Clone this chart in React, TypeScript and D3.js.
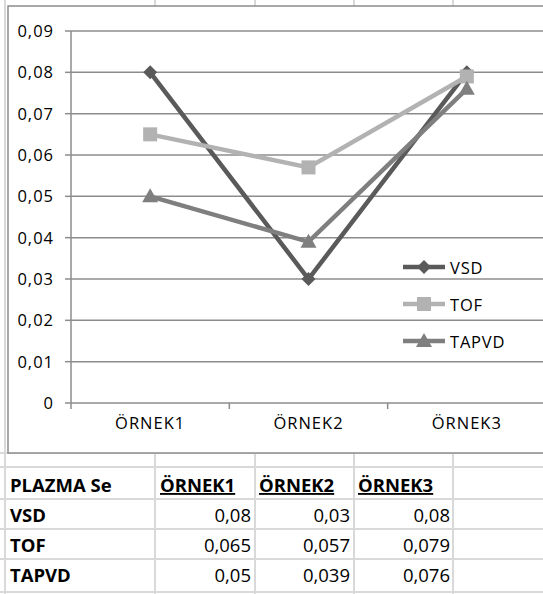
import React from "react";
import * as d3 from "d3";

const categories = ["ÖRNEK1", "ÖRNEK2", "ÖRNEK3"];
const seriesNames = ["VSD", "TOF", "TAPVD"];
const vsdValues = [0.08, 0.03, 0.08];
const tofValues = [0.065, 0.057, 0.079];
const tapvdValues = [0.05, 0.039, 0.076];
const yTicks = [0, 0.01, 0.02, 0.03, 0.04, 0.05, 0.06, 0.07, 0.08, 0.09];
const tableHeader = "PLAZMA Se";
const tableValueLabels = [
  ["0,08", "0,03", "0,08"],
  ["0,065", "0,057", "0,079"],
  ["0,05", "0,039", "0,076"],
];

const W = 543;
const H = 594;
const FONT = "'Open Sans', 'Noto Sans', sans-serif";

const colors = ["#5a5a5a", "#b2b2b2", "#7f7f7f"];
const markers = ["diamond", "square", "triangle"];

function Marker({ type, x, y, color }: { type: string; x: number; y: number; color: string }) {
  if (type === "diamond") {
    const s = 7;
    return <path d={`M${x},${y - s}L${x + s},${y}L${x},${y + s}L${x - s},${y}Z`} fill={color} />;
  }
  if (type === "square") {
    const s = 7;
    return <rect x={x - s} y={y - s} width={2 * s} height={2 * s} fill={color} />;
  }
  const s = 8;
  return <path d={`M${x},${y - s}L${x + s},${y + 6}L${x - s},${y + 6}Z`} fill={color} />;
}

export default function App() {
  const plotLeft = 71;
  const plotRight = 546;
  const plotTop = 31;
  const plotBottom = 403;

  const x = d3.scaleBand<string>().domain(categories).range([plotLeft, plotRight]).padding(0);
  const y = d3.scaleLinear().domain([0, 0.09]).range([plotBottom, plotTop]);
  const data = [vsdValues, tofValues, tapvdValues];
  const line = d3
    .line<number>()
    .x((_, i) => (x(categories[i]) as number) + x.bandwidth() / 2)
    .y((d) => y(d));

  const fmt = (v: number) => (v === 0 ? "0" : v.toFixed(2).replace(".", ","));

  const colLines = [5, 155, 255, 354, 453];
  const rowLines = [467, 499, 529, 559, 592];
  const valueRight = [251, 350, 450];
  const headerLeft = [160, 259, 358];
  const rowBase = [522, 552, 582];

  return (
    <svg width={W} height={H} style={{ position: "absolute", left: 0, top: 0, background: "#fff" }}>
      <rect x={0} y={0} width={W} height={H} fill="#fff" />
      {/* spreadsheet cell grid */}
      <g stroke="#d9d9d9" strokeWidth={2}>
        {colLines.map((cx) => (
          <line key={"c" + cx} x1={cx} x2={cx} y1={0} y2={H} />
        ))}
        {[453, ...rowLines].map((ry) => (
          <line key={"r" + ry} x1={0} x2={W} y1={ry} y2={ry} />
        ))}
      </g>
      {/* chart frame */}
      <rect x={8} y={6} width={W} height={447} fill="#fff" stroke="#8c8c8c" strokeWidth={1.5} />
      {/* gridlines */}
      <g stroke="#8c8c8c" strokeWidth={1.5}>
        {yTicks.slice(1).map((t) => (
          <line key={t} x1={plotLeft} x2={plotRight} y1={y(t)} y2={y(t)} />
        ))}
      </g>
      {/* axes */}
      <g stroke="#8c8c8c" strokeWidth={1.5}>
        <line x1={plotLeft} x2={plotLeft} y1={plotTop} y2={plotBottom} />
        <line x1={plotLeft} x2={plotRight} y1={plotBottom} y2={plotBottom} />
        {yTicks.map((t) => (
          <line key={"yt" + t} x1={plotLeft - 6} x2={plotLeft} y1={y(t)} y2={y(t)} />
        ))}
        {categories.map((c) => (
          <line key={"xt" + c} x1={x(c) as number} x2={x(c) as number} y1={plotBottom} y2={plotBottom + 6} />
        ))}
      </g>
      <g fontFamily={FONT} fontSize={16.5} fill="#000">
        {yTicks.map((t) => (
          <text key={"yl" + t} x={54} y={y(t) + 6} textAnchor="end" letterSpacing={1}>
            {fmt(t)}
          </text>
        ))}
        {categories.map((c) => (
          <text
            key={"xl" + c}
            x={(x(c) as number) + x.bandwidth() / 2}
            y={429}
            textAnchor="middle"
            letterSpacing={1}
          >
            {c}
          </text>
        ))}
      </g>
      {/* series */}
      {data.map((vals, si) => (
        <g key={seriesNames[si]}>
          <path d={line(vals) as string} fill="none" stroke={colors[si]} strokeWidth={4.5} />
          {vals.map((v, i) => (
            <Marker
              key={i}
              type={markers[si]}
              x={(x(categories[i]) as number) + x.bandwidth() / 2}
              y={y(v)}
              color={colors[si]}
            />
          ))}
        </g>
      ))}
      {/* legend */}
      <g fontFamily={FONT} fontSize={16.5} fill="#000">
        {seriesNames.map((n, i) => {
          const ly = 267 + i * 37;
          return (
            <g key={n}>
              <line x1={403} x2={445} y1={ly} y2={ly} stroke={colors[i]} strokeWidth={4.5} />
              <Marker type={markers[i]} x={424} y={ly} color={colors[i]} />
              <text x={450} y={ly + 7} letterSpacing={0.8}>
                {n}
              </text>
            </g>
          );
        })}
      </g>
      {/* table */}
      <g fontFamily={FONT} fontSize={18.5} fill="#000">
        <text x={10} y={492} fontWeight="bold">
          {tableHeader}
        </text>
        {categories.map((c, i) => (
          <text key={"h" + c} x={headerLeft[i]} y={492} fontWeight="bold" textDecoration="underline">
            {c}
          </text>
        ))}
        {seriesNames.map((n, r) => (
          <g key={"row" + n}>
            <text x={10} y={rowBase[r]} fontWeight="bold">
              {n}
            </text>
            {tableValueLabels[r].map((v, c) => (
              <text key={c} x={valueRight[c]} y={rowBase[r]} textAnchor="end">
                {v}
              </text>
            ))}
          </g>
        ))}
      </g>
    </svg>
  );
}
